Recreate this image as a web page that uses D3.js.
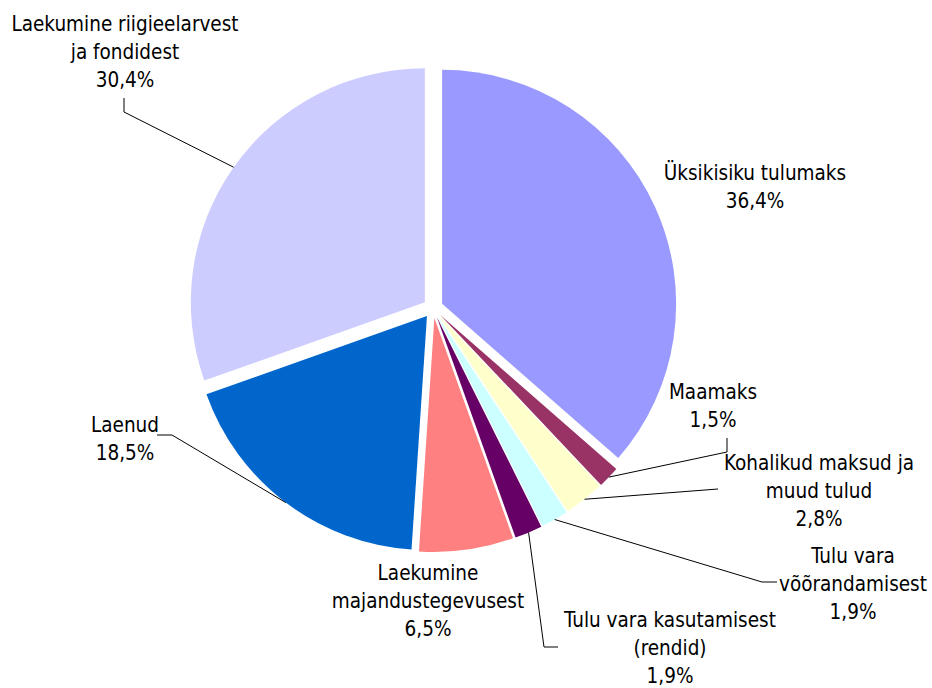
<!DOCTYPE html>
<html>
<head>
<meta charset="utf-8">
<script src="https://cdn.jsdelivr.net/npm/d3@7"></script>
<style>
  html, body { margin: 0; padding: 0; background: #fff; }
  svg { display: block; }
  text { font-family: "DejaVu Sans Condensed", "DejaVu Sans", sans-serif; font-size: 20.5px; fill: #000; }
</style>
</head>
<body>
<svg id="chart" width="932" height="688"></svg>
<script>
// ---- data ----
const categories = [
  "Üksikisiku tulumaks",
  "Maamaks",
  "Kohalikud maksud ja muud tulud",
  "Tulu vara võõrandamisest",
  "Tulu vara kasutamisest (rendid)",
  "Laekumine majandustegevusest",
  "Laenud",
  "Laekumine riigieelarvest ja fondidest"
];
const values = [36.4, 1.5, 2.8, 1.9, 1.9, 6.5, 18.5, 30.4];
const labelLines = [
  ["Üksikisiku tulumaks"],
  ["Maamaks"],
  ["Kohalikud maksud ja", "muud tulud"],
  ["Tulu vara", "võõrandamisest"],
  ["Tulu vara kasutamisest", "(rendid)"],
  ["Laekumine", "majandustegevusest"],
  ["Laenud"],
  ["Laekumine riigieelarvest", "ja fondidest"]
];
const colors = ["#9999FF", "#993366", "#FFFFCC", "#CCFFFF", "#660066", "#FF8080", "#0066CC", "#CCCCFF"];

// ---- layout (not data) ----
const cx = 433, cy = 308, radius = 234, explode = 10, lineGap = 28;
// label anchor: text center x, first baseline y; leader: elbow points after arc point
const labelLayout = [
  { x: 755, y: 180, leader: null },
  { x: 713, y: 399, leader: [[727, 452], [727, 438]] },
  { x: 819, y: 470, leader: [[718, 489]] },
  { x: 853, y: 563, leader: [[762, 582], [777, 582]] },
  { x: 670, y: 627, leader: [[544, 647], [558, 647]] },
  { x: 428, y: 580, leader: null },
  { x: 125, y: 432, leader: [[172, 435], [157, 435]] },
  { x: 125, y: 31,  leader: [[124, 112], [124, 98]] }
];

const fmt = v => d3.format(".1f")(v).replace(".", ",") + "%";

const svg = d3.select("#chart");
const pie = d3.pie().sort(null).value(d => d.value).startAngle(0).endAngle(2 * Math.PI);
const arc = d3.arc().innerRadius(0).outerRadius(radius);

const data = categories.map((c, i) => ({ name: c, value: values[i], color: colors[i], lines: labelLines[i], layout: labelLayout[i] }));
const arcs = pie(data);

const g = svg.append("g").attr("transform", `translate(${cx},${cy})`);

arcs.forEach(a => {
  const mid = (a.startAngle + a.endAngle) / 2;
  a.dx = explode * Math.sin(mid);
  a.dy = -explode * Math.cos(mid);
  a.px = cx + a.dx + radius * Math.sin(mid);
  a.py = cy + a.dy - radius * Math.cos(mid);
});

g.selectAll("path.slice")
  .data(arcs)
  .join("path")
  .attr("class", "slice")
  .attr("d", arc)
  .attr("transform", d => `translate(${d.dx},${d.dy})`)
  .attr("fill", d => d.data.color);

// leader lines
const line = d3.line();
svg.selectAll("path.leader")
  .data(arcs.filter(a => a.data.layout.leader))
  .join("path")
  .attr("class", "leader")
  .attr("d", a => line([[a.px, a.py], ...a.data.layout.leader]))
  .attr("fill", "none")
  .attr("stroke", "#000")
  .attr("stroke-width", 1);

// labels
arcs.forEach(a => {
  const L = a.data.layout;
  const t = svg.append("text").attr("text-anchor", "middle");
  const lines = [...a.data.lines, fmt(a.data.value)];
  lines.forEach((s, j) => {
    t.append("tspan").attr("x", L.x).attr("y", L.y + j * lineGap).text(s);
  });
});
</script>
</body>
</html>
